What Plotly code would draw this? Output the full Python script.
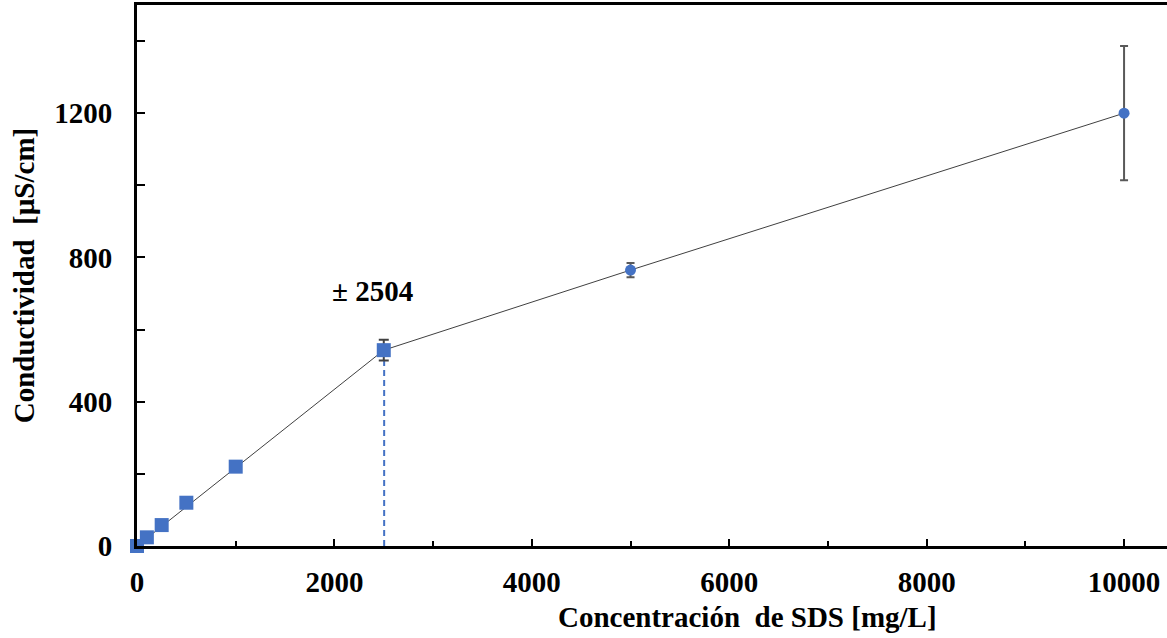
import plotly.graph_objects as go

# SDS concentration (mg/L) vs. conductivity (µS/cm)
conc_low = [0, 100, 250, 500, 1000, 2500]
cond_low = [0, 24, 58, 120, 220, 543]
err_low = [0, 0, 0, 0, 10, 29]

conc_high = [5000, 10000]
cond_high = [765, 1200]
err_high = [20, 186]

cmc_value = 2504
cmc_label = "± 2504"

x_tick_vals = [0, 2000, 4000, 6000, 8000, 10000]
x_tick_text = ["0", "2000", "4000", "6000", "8000", "10000"]
y_tick_vals = [0, 400, 800, 1200]
y_tick_text = ["0", "400", "800", "1200"]

BLUE = "#4472C4"
FONT = "Liberation Serif"
FS = 29

fig = go.Figure()

# straight fit below the CMC: origin to the 2500 mg/L point
fig.add_trace(go.Scatter(
    x=[conc_low[0], conc_low[-1]], y=[cond_low[0], cond_low[-1]],
    mode="lines", line=dict(color="#404040", width=1), hoverinfo="skip",
    showlegend=False, cliponaxis=False))
# segments above the CMC
fig.add_trace(go.Scatter(
    x=[conc_low[-1]] + conc_high, y=[cond_low[-1]] + cond_high,
    mode="lines", line=dict(color="#404040", width=1), hoverinfo="skip",
    showlegend=False, cliponaxis=False))

# dashed drop line at the CMC
fig.add_trace(go.Scatter(
    x=[cmc_value, cmc_value], y=[0, cond_low[-1]],
    mode="lines", line=dict(color=BLUE, width=2, dash="6px,4px"),
    showlegend=False, hoverinfo="skip"))

fig.add_trace(go.Scatter(
    x=conc_low, y=cond_low, mode="markers",
    marker=dict(symbol="square", size=14, color=BLUE),
    error_y=dict(type="data", array=err_low, color="#404040", thickness=2, width=5),
    showlegend=False, cliponaxis=False))

fig.add_trace(go.Scatter(
    x=conc_high, y=cond_high, mode="markers",
    marker=dict(symbol="circle", size=11, color=BLUE),
    error_y=dict(type="data", array=err_high, color="#595959", thickness=2, width=4),
    showlegend=False, cliponaxis=False))

fig.add_annotation(
    x=2381, y=707, xref="x", yref="y", text=cmc_label, showarrow=False,
    xanchor="center", yanchor="middle",
    font=dict(family=FONT, size=FS, color="black", weight="bold"))

# x-axis title, placed below the tick labels
fig.add_annotation(
    x=(747 - 137) / 1030, y=-(617 - 546) / 541, xref="paper", yref="paper",
    text="Concentración  de SDS [mg/L]", showarrow=False,
    xanchor="center", yanchor="middle",
    font=dict(family=FONT, size=FS, color="black", weight="bold"))

fig.update_layout(
    width=1167, height=638,
    margin=dict(l=137, r=0, t=5, b=92),
    paper_bgcolor="white", plot_bgcolor="white",
    font=dict(family=FONT, size=FS, color="black"),
    xaxis=dict(
        range=[0, 10435], tickvals=x_tick_vals, ticktext=x_tick_text,
        ticks="inside", ticklen=7,
        tickwidth=2, tickcolor="black", showline=True, linecolor="black",
        linewidth=3, mirror=True, showgrid=False, zeroline=False,
        tickfont=dict(family=FONT, size=FS, color="black", weight="bold"),
        minor=dict(dtick=1000, tick0=0, ticks="inside", ticklen=5, tickwidth=2,
                   tickcolor="black", showgrid=False),
        ticklabelstandoff=8),
    yaxis=dict(
        range=[0, 1500], tickvals=y_tick_vals, ticktext=y_tick_text,
        ticks="inside", ticklen=8,
        tickwidth=2, tickcolor="black", showline=True, linecolor="black",
        linewidth=3, showgrid=False, zeroline=False,
        tickfont=dict(family=FONT, size=FS, color="black", weight="bold"),
        minor=dict(dtick=200, tick0=0, ticks="inside", ticklen=8, tickwidth=2,
                   tickcolor="black", showgrid=False),
        ticklabelstandoff=16,
        title=dict(text="Conductividad  [µS/cm]", standoff=12,
                   font=dict(family=FONT, size=FS, color="black", weight="bold"))),
)

fig.write_html("out.html")
